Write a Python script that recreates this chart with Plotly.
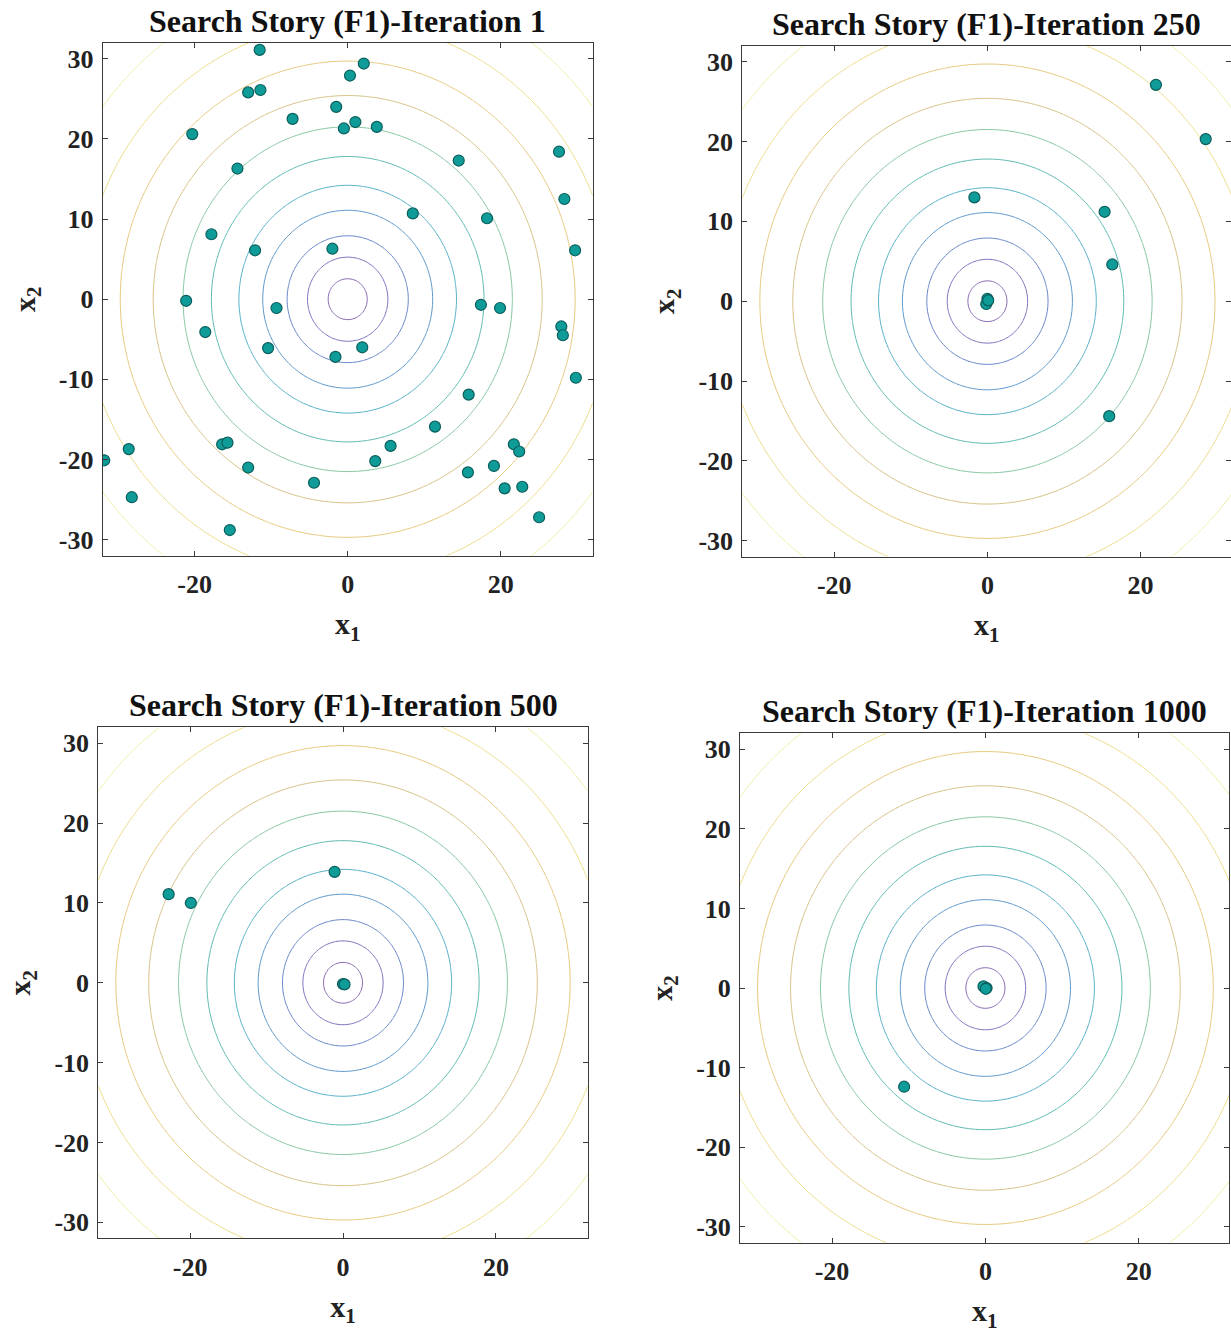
import numpy as np
import plotly.graph_objects as go

# ---------------- data ----------------
titles = ["Search Story (F1)-Iteration 1", "Search Story (F1)-Iteration 250",
          "Search Story (F1)-Iteration 500", "Search Story (F1)-Iteration 1000"]

it1_x = [-11.5, 2.1, 0.3, -13.0, -11.4, -1.5, -7.2, 1.0, -0.5, 3.8, -20.3, 14.5, 27.6, -14.4,
         28.3, 8.5, 18.2, -17.8, 29.7, -12.1, -2.0, -21.1, -9.3, 17.4, 19.9, 27.9, 28.1, -18.6,
         -10.4, 1.9, -1.6, 29.8, 15.8, 11.4, -16.4, -15.7, 5.6, 21.7, 22.4, -28.6, -31.8, 3.6,
         -13.0, 15.7, 19.1, -4.4, 20.5, 22.8, -28.2, 25.0, -15.4]
it1_y = [31.1, 29.4, 27.9, 25.8, 26.1, 24.0, 22.5, 22.1, 21.3, 21.5, 20.6, 17.3, 18.4, 16.3,
         12.5, 10.7, 10.1, 8.1, 6.1, 6.1, 6.3, -0.2, -1.1, -0.7, -1.1, -3.4, -4.5, -4.1,
         -6.1, -6.0, -7.2, -9.8, -11.9, -15.9, -18.1, -17.9, -18.3, -18.1, -19.0, -18.7, -20.1, -20.2,
         -21.0, -21.6, -20.8, -22.9, -23.6, -23.4, -24.7, -27.2, -28.8]

it250_x = [22.0, 28.5, -1.7, 15.3, 16.3, 15.9, 0.0, -0.15, 0.1]
it250_y = [27.1, 20.3, 13.0, 11.2, 4.6, -14.4, 0.3, -0.35, 0.1]

it500_x = [-22.8, -19.9, -1.1, 0.0, 0.2]
it500_y = [11.1, 10.0, 13.9, -0.15, -0.2]

it1000_x = [-10.6, -0.25, 0.15, 0.05]
it1000_y = [-12.4, 0.2, 0.0, -0.1]

# contour ring radii and their colours
ring_radii = [2.55, 5.25, 7.9, 11.1, 14.2, 17.8, 21.5, 25.4, 29.7, 34.5, 40.0]
ring_colors = ["#8a6cb2", "#7c74c0", "#6a86ca", "#5c98cc", "#55b0c8", "#5cbab2",
               "#86c6a2", "#d6c084", "#e6c87c", "#ecdc88", "#eeeea4"]

x_ticks = [-20, 0, 20]
x_tick_text = ["-20", "0", "20"]
y_ticks = [-30, -20, -10, 0, 10, 20, 30]
y_tick_text = ["-30", "-20", "-10", "0", "10", "20", "30"]

points = [(it1_x, it1_y), (it250_x, it250_y), (it500_x, it500_y), (it1000_x, it1000_y)]

# ---------------- layout geometry (pixels) ----------------
W, H = 1231, 1338
boxes = [  # left, right, top, bottom in px
    (102.7, 592.7, 42.7, 555.7),
    (742.3, 1231.0, 45.7, 556.7),
    (98.3, 587.7, 727.3, 1238.3),
    (740.0, 1229.3, 733.3, 1242.7),
]
xranges = [[-32, 32], [-32, 31.8], [-32, 32], [-32, 31.8]]

# contour surface on a grid, mapped so that each ring is an integer level
grid = np.linspace(-32, 32, 201)
GX, GY = np.meshgrid(grid, grid)
R = np.sqrt(GX ** 2 + GY ** 2)
Z = np.interp(R, [0.0] + ring_radii + [46.0], list(range(0, len(ring_radii) + 2)))
Z = np.round(Z, 4)

n = len(ring_colors)
cscale = [[i / (n - 1), c] for i, c in enumerate(ring_colors)]

FONT = "Liberation Serif, Times New Roman, serif"
fig = go.Figure()
annotations = []
for k in range(4):
    ax = "" if k == 0 else str(k + 1)
    xa, ya = "x" + ax, "y" + ax
    fig.add_trace(go.Contour(
        x=grid, y=grid, z=Z, xaxis=xa, yaxis=ya,
        contours=dict(start=1, end=n, size=1, coloring="lines"),
        colorscale=cscale, zmin=1, zmax=n, showscale=False,
        line=dict(width=1, smoothing=1), hoverinfo="skip"))
    px_, py_ = points[k]
    fig.add_trace(go.Scatter(
        x=px_, y=py_, mode="markers", xaxis=xa, yaxis=ya,
        marker=dict(size=11, color="#0f9c98", line=dict(color="#0a5e5c", width=1.2)),
        showlegend=False))

    l, r, t, b = boxes[k]
    axis_common = dict(showline=True, mirror="ticks", linecolor="#3a3a3a", linewidth=1,
                       ticks="inside", ticklen=5, tickwidth=1, tickcolor="#3a3a3a",
                       showgrid=False, zeroline=False,
                       tickfont=dict(family=FONT, size=26, color="#222", weight="bold"))
    fig.layout["xaxis" + ax] = dict(
        domain=[l / W, r / W], range=xranges[k], anchor=ya,
        tickvals=x_ticks, ticktext=x_tick_text, ticklabelstandoff=5,
        title=dict(text="x<sub>1</sub>", font=dict(family=FONT, size=30, color="#222", weight="bold"),
                   standoff=15),
        **axis_common)
    fig.layout["yaxis" + ax] = dict(
        domain=[1 - b / H, 1 - t / H], range=[-32, 32], anchor=xa,
        tickvals=y_ticks, ticktext=y_tick_text, ticklabelstandoff=3,
        title=dict(text="x<sub>2</sub>", font=dict(family=FONT, size=30, color="#222", weight="bold"),
                   standoff=14),
        **axis_common)
    annotations.append(dict(
        text="<b>" + titles[k] + "</b>", xref="paper", yref="paper",
        x=((l + r) / 2) / W, y=1 - t / H, xanchor="center", yanchor="bottom", yshift=2,
        showarrow=False, font=dict(family=FONT, size=32, color="#111")))

fig.update_layout(width=W, height=H, margin=dict(l=0, r=0, t=0, b=0),
                  paper_bgcolor="white", plot_bgcolor="white",
                  showlegend=False, annotations=annotations)
fig.write_html("out.html")
